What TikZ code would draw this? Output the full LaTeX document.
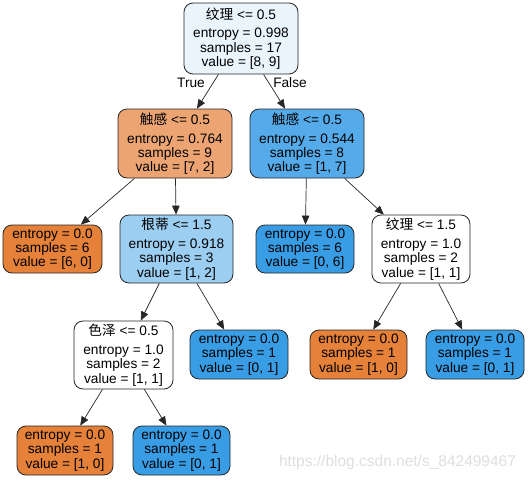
\documentclass[tikz,border=0pt]{standalone}
\usepackage{fontspec}
\setmainfont{Liberation Sans}
\newfontfamily\cjk{Noto Sans CJK SC}
\usetikzlibrary{arrows.meta}
\definecolor{rootc}{RGB}{233,244,252}
\definecolor{orlight}{RGB}{236,165,114}
\definecolor{bldark}{RGB}{85,171,233}
\definecolor{bllight}{RGB}{156,206,242}
\definecolor{orleaf}{RGB}{229,129,57}
\definecolor{blleaf}{RGB}{57,157,229}
\definecolor{wmark}{RGB}{222,222,222}
\begin{document}
\begin{tikzpicture}[x=1pt,y=-1pt,
  tnode/.style={draw=black!85, line width=0.8pt, rounded corners=9pt, inner sep=0pt,
    align=center, font=\fontsize{13.7}{14.3}\selectfont},
  conn/.style={draw=black!85, line width=0.7pt, -{Triangle[length=9pt,width=7.5pt]}},
  lbl/.style={font=\fontsize{13.7}{14.3}\selectfont, inner sep=0pt},
]
\useasboundingbox (0,0) rectangle (528,480);
% level 1
\node[tnode, fill=rootc, minimum width=114pt, minimum height=71pt] (root) at (241,38.5)
  {{\cjk 纹理} <= 0.5\\[4.6pt]entropy = 0.998\\samples = 17\\value = [8, 9]};
% level 2
\node[tnode, fill=orlight, minimum width=114pt, minimum height=69pt] (n1) at (175,143.5)
  {{\cjk 触感} <= 0.5\\[4.6pt]entropy = 0.764\\samples = 9\\value = [7, 2]};
\node[tnode, fill=bldark, minimum width=114pt, minimum height=69pt] (n2) at (307,143.5)
  {{\cjk 触感} <= 0.5\\[4.6pt]entropy = 0.544\\samples = 8\\value = [1, 7]};
% level 3
\node[tnode, fill=orleaf, minimum width=99pt, minimum height=48pt] (l1) at (52.5,249)
  {entropy = 0.0\\samples = 6\\value = [6, 0]};
\node[tnode, fill=bllight, minimum width=113pt, minimum height=68pt] (n3) at (176.5,249)
  {{\cjk 根蒂} <= 1.5\\[4.6pt]entropy = 0.918\\samples = 3\\value = [1, 2]};
\node[tnode, fill=blleaf, minimum width=98pt, minimum height=48pt] (l2) at (305,249)
  {entropy = 0.0\\samples = 6\\value = [0, 6]};
\node[tnode, fill=white, minimum width=98pt, minimum height=68pt] (n4) at (421,249)
  {{\cjk 纹理} <= 1.5\\[4.6pt]entropy = 1.0\\samples = 2\\value = [1, 1]};
% level 4
\node[tnode, fill=white, minimum width=99pt, minimum height=68pt] (n5) at (123.5,355)
  {{\cjk 色泽} <= 0.5\\[4.6pt]entropy = 1.0\\samples = 2\\value = [1, 1]};
\node[tnode, fill=blleaf, minimum width=98pt, minimum height=49pt] (l3) at (239,354.5)
  {entropy = 0.0\\samples = 1\\value = [0, 1]};
\node[tnode, fill=orleaf, minimum width=97pt, minimum height=49pt] (l4) at (358.5,354.5)
  {entropy = 0.0\\samples = 1\\value = [1, 0]};
\node[tnode, fill=blleaf, minimum width=98pt, minimum height=49pt] (l5) at (475,354.5)
  {entropy = 0.0\\samples = 1\\value = [0, 1]};
% level 5
\node[tnode, fill=orleaf, minimum width=96pt, minimum height=49pt] (l6) at (65,450.5)
  {entropy = 0.0\\samples = 1\\value = [1, 0]};
\node[tnode, fill=blleaf, minimum width=97pt, minimum height=49pt] (l7) at (181.5,450.5)
  {entropy = 0.0\\samples = 1\\value = [0, 1]};
% connectors
\draw[conn] (root) -- (n1);
\draw[conn] (root) -- (n2);
\draw[conn] (n1) -- (l1);
\draw[conn] (n1) -- (n3);
\draw[conn] (n2) -- (l2);
\draw[conn] (n2) -- (n4);
\draw[conn] (n3) -- (n5);
\draw[conn] (n3) -- (l3);
\draw[conn] (n4) -- (l4);
\draw[conn] (n4) -- (l5);
\draw[conn] (n5) -- (l6);
\draw[conn] (n5) -- (l7);
% edge labels
\node[lbl] (ltrue) at (191,83) {True};
\node[lbl] (lfalse) at (290,83) {False};
% watermark
\node[font=\fontsize{15.5}{16}\selectfont, text=wmark, inner sep=0pt] (wm) at (397.5,462) {https://blog.csdn.net/s\_842499467};
\end{tikzpicture}
\end{document}
